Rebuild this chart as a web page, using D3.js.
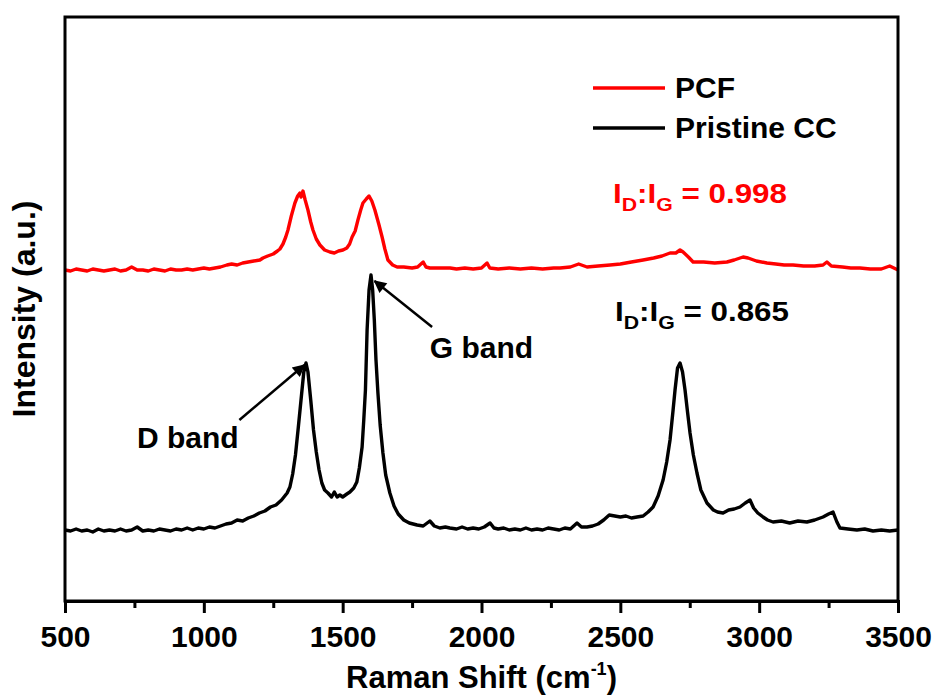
<!DOCTYPE html>
<html>
<head>
<meta charset="utf-8">
<script src="https://cdn.jsdelivr.net/npm/d3@7"></script>
<style>
  html, body { margin: 0; padding: 0; background: #fff; }
  svg { display: block; }
  text { font-family: "Liberation Sans", Arial, sans-serif; font-weight: bold; }
</style>
</head>
<body>
<svg id="chart" width="938" height="696"></svg>
<script>
// Raman spectra: [Raman shift (cm^-1), intensity (a.u., offset)]
const pcf = [[500,331],[520,330],[540,332],[560,331],[580,330],[600,332],[620,331],[640,330],[660,331],[680,332],[700,330],[720,331],[740,334],[760,331],[780,331],[800,330],[820,332],[840,331],[860,330],[880,332],[900,331],[920,331],[940,332],[960,331],[980,332],[1000,333],[1020,332],[1040,333],[1060,334],[1083,336],[1100,337],[1120,336],[1140,338],[1160,339],[1180,340],[1202,341],[1213,343],[1230,345],[1250,347],[1265,350],[1274,352],[1285,357],[1295,364],[1303,371],[1315,385],[1328,398],[1338,405],[1346,408],[1350,404],[1357,410],[1365,401],[1375,391],[1385,379],[1393,371],[1405,362],[1418,356],[1435,351],[1454,349],[1470,348],[1485,350],[1501,351],[1515,353],[1525,357],[1534,364],[1545,370],[1555,381],[1565,391],[1573,398],[1585,402],[1595,405],[1605,400],[1616,391],[1630,377],[1642,364],[1652,352],[1663,341],[1680,336],[1696,334],[1720,334],[1750,333],[1770,334],[1790,339],[1800,334],[1814,333],[1850,333],[1887,333],[1910,332],[1940,333],[1970,332],[2000,333],[2020,338],[2030,333],[2060,332],[2100,333],[2140,332],[2180,333],[2220,332],[2260,333],[2283,333],[2320,334],[2350,337],[2380,334],[2420,335],[2463,336],[2500,337],[2540,339],[2582,341],[2620,343],[2650,345],[2679,348],[2700,348],[2715,351],[2726,349],[2745,344],[2762,339],[2800,339],[2840,338],[2884,339],[2910,341],[2942,344],[2960,343],[2990,340],[3028,338],[3060,337],[3090,336],[3122,336],[3160,335],[3200,335],[3230,336],[3244,339],[3260,335],[3300,334],[3330,333],[3363,333],[3400,332],[3440,332],[3470,335],[3500,331]];

const pristineCC = [[500,71],[520,70],[540,72],[560,70],[580,71],[600,69],[620,72],[640,70],[660,71],[680,70],[700,72],[720,70],[740,71],[760,74],[780,70],[800,71],[820,70],[840,72],[860,71],[880,70],[900,72],[920,71],[940,73],[960,71],[980,73],[1000,72],[1020,74],[1040,73],[1060,75],[1080,77],[1100,78],[1120,81],[1140,80],[1160,83],[1180,85],[1200,88],[1220,90],[1240,94],[1260,96],[1280,101],[1300,108],[1310,114],[1320,127],[1330,146],[1340,173],[1350,201],[1360,229],[1368,238],[1375,229],[1385,201],[1395,171],[1405,149],[1415,131],[1425,118],[1435,111],[1447,108],[1460,104],[1470,109],[1480,104],[1490,106],[1500,104],[1515,107],[1526,109],[1540,113],[1551,119],[1560,133],[1570,154],[1576,181],[1582,211],[1588,271],[1595,311],[1602,326],[1608,311],[1614,281],[1620,241],[1627,208],[1635,176],[1645,148],[1655,126],[1670,108],[1685,95],[1700,87],[1720,81],[1740,78],[1768,76],[1790,75],[1814,80],[1830,75],[1850,73],[1870,74],[1886,73],[1910,72],[1930,74],[1950,72],[1970,73],[1990,72],[2010,74],[2031,78],[2045,73],[2060,72],[2080,73],[2100,71],[2120,72],[2140,71],[2160,73],[2180,71],[2200,72],[2220,71],[2240,73],[2260,72],[2280,71],[2300,73],[2320,72],[2344,78],[2360,74],[2380,74],[2400,75],[2420,77],[2440,81],[2460,86],[2480,85],[2500,84],[2520,85],[2540,83],[2560,84],[2582,85],[2600,89],[2618,94],[2636,105],[2654,121],[2667,139],[2679,161],[2690,191],[2697,211],[2706,233],[2715,238],[2724,229],[2733,211],[2742,189],[2751,168],[2763,146],[2776,128],[2790,111],[2812,98],[2835,91],[2850,89],[2870,88],[2890,91],[2910,92],[2931,94],[2950,98],[2967,101],[2980,93],[2995,88],[3014,84],[3030,81],[3050,79],[3080,80],[3110,78],[3140,80],[3172,79],[3200,81],[3230,84],[3250,87],[3266,89],[3280,79],[3291,73],[3320,72],[3352,71],[3380,72],[3410,70],[3440,71],[3470,70],[3500,71]];

const xMajorTicks = [500, 1000, 1500, 2000, 2500, 3000, 3500];
const xMinorTicks = [750, 1250, 1750, 2250, 2750, 3250];
const seriesNames = ["PCF", "Pristine CC"];
const seriesColors = ["#ff0000", "#000000"];
const ratioLabels = ["0.998", "0.865"];
const bandLabels = ["D band", "G band"];

const W = 938, H = 696;
const m = {left: 65, right: 40, top: 17, bottom: 95};
const x = d3.scaleLinear().domain([500, 3500]).range([m.left, W - m.right]);
const y = d3.scaleLinear().domain([0, 584]).range([H - m.bottom, m.top]);

const svg = d3.select("#chart");
svg.append("rect").attr("width", W).attr("height", H).attr("fill", "#fff");

const defs = svg.append("defs");
defs.append("marker").attr("id", "arr").attr("viewBox", "0 0 10 10")
  .attr("refX", 9).attr("refY", 5).attr("markerWidth", 6).attr("markerHeight", 5)
  .attr("markerUnits", "strokeWidth").attr("orient", "auto")
  .append("path").attr("d", "M0,0 L10,5 L0,10 z").attr("fill", "#000");

const line = d3.line().x(d => x(d[0])).y(d => y(d[1]));

svg.append("path").datum(pristineCC).attr("d", line)
  .attr("fill", "none").attr("stroke", seriesColors[1]).attr("stroke-width", 3.4).attr("stroke-linejoin", "round");
svg.append("path").datum(pcf).attr("d", line)
  .attr("fill", "none").attr("stroke", seriesColors[0]).attr("stroke-width", 3.4).attr("stroke-linejoin", "round");

// frame
svg.append("rect").attr("x", m.left).attr("y", m.top)
  .attr("width", W - m.right - m.left).attr("height", H - m.bottom - m.top)
  .attr("fill", "none").attr("stroke", "#000").attr("stroke-width", 3);

// bottom axis
const gx = svg.append("g").attr("transform", `translate(0,${H - m.bottom})`);
gx.call(d3.axisBottom(x).tickValues(xMajorTicks).tickSize(12).tickFormat(d3.format("d")))
  .call(g => g.select(".domain").attr("stroke-width", 3))
  .call(g => g.selectAll(".tick line").attr("stroke-width", 3))
  .call(g => g.selectAll(".tick text").attr("y", 46).attr("dy", null)
    .attr("font-size", 30).attr("font-family", "Liberation Sans, Arial, sans-serif")
    .attr("font-weight", "bold").attr("fill", "#000"));
const gm = svg.append("g").attr("transform", `translate(0,${H - m.bottom})`);
gm.call(d3.axisBottom(x).tickValues(xMinorTicks).tickSize(7).tickFormat(""))
  .call(g => g.select(".domain").remove())
  .call(g => g.selectAll(".tick line").attr("stroke-width", 3));

// axis titles
const xt = svg.append("text").attr("x", (m.left + W - m.right) / 2).attr("y", 688)
  .attr("text-anchor", "middle").attr("font-size", 31);
xt.append("tspan").text("Raman Shift (cm");
xt.append("tspan").attr("font-size", 18).attr("dy", -13).text("-1");
xt.append("tspan").attr("dy", 13).text(")");

svg.append("text").attr("transform", `translate(35,${(m.top + H - m.bottom) / 2}) rotate(-90)`)
  .attr("text-anchor", "middle").attr("font-size", 32).text("Intensity (a.u.)");

// legend
const leg = svg.append("g");
seriesNames.forEach((n, i) => {
  const yy = 88 + i * 40;
  leg.append("line").attr("x1", 593).attr("x2", 665).attr("y1", yy).attr("y2", yy)
    .attr("stroke", seriesColors[i]).attr("stroke-width", 3.4);
  leg.append("text").attr("x", 675).attr("y", yy + 10).attr("font-size", 30).attr("fill", "#000").text(n);
});

// ratio labels
[[613, 203], [615, 321]].forEach((p, i) => {
  const t = svg.append("text").attr("transform", `translate(${p[0]},${p[1]}) scale(1.12,1)`)
    .attr("font-size", 28).attr("fill", seriesColors[i]);
  t.append("tspan").text("I");
  t.append("tspan").attr("font-size", 19).attr("dy", 8).text("D");
  t.append("tspan").attr("dy", -8).text(":I");
  t.append("tspan").attr("font-size", 19).attr("dy", 8).text("G");
  t.append("tspan").attr("dy", -8).text(" = " + ratioLabels[i]);
});

// band annotations (anchored in data coordinates)
const arrows = [
  {from: [1128, 181], to: [1362, 236], label: bandLabels[0], at: [759, 153]},
  {from: [1822, 274], to: [1615, 320], label: bandLabels[1], at: [1814, 243]}
];
arrows.forEach(a => {
  svg.append("line").attr("x1", x(a.from[0])).attr("y1", y(a.from[1]))
    .attr("x2", x(a.to[0])).attr("y2", y(a.to[1]))
    .attr("stroke", "#000").attr("stroke-width", 2.5).attr("marker-end", "url(#arr)");
  svg.append("text").attr("x", x(a.at[0])).attr("y", y(a.at[1])).attr("font-size", 30).text(a.label);
});
</script>
</body>
</html>
